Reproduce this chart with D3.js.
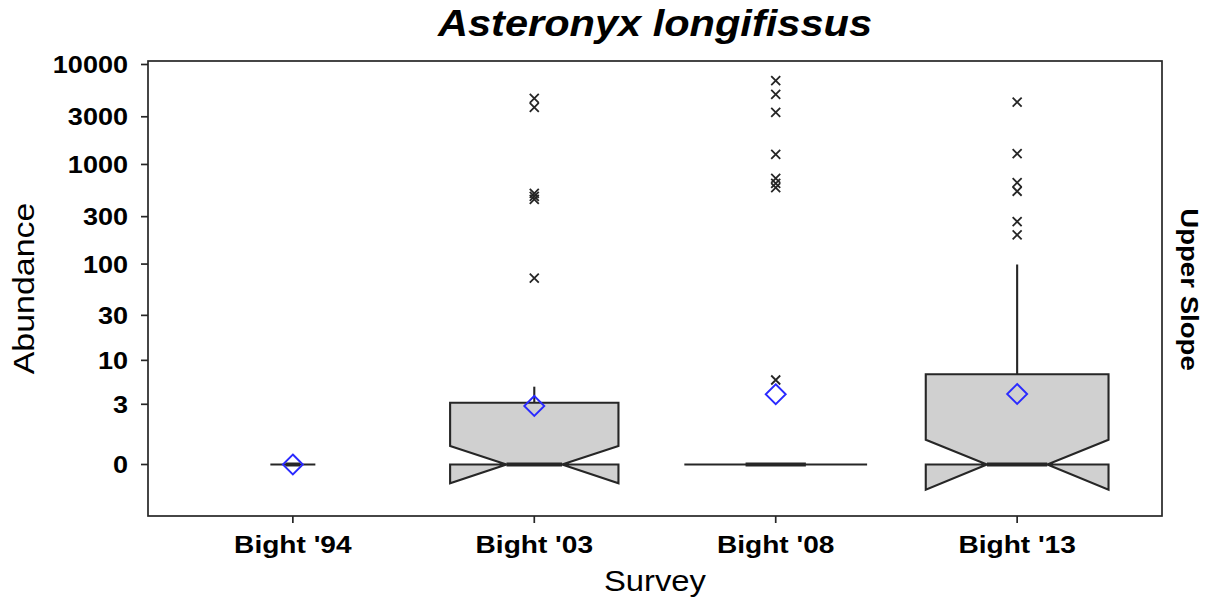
<!DOCTYPE html>
<html>
<head>
<meta charset="utf-8">
<script src="https://cdn.jsdelivr.net/npm/d3@7"></script>
<style>
  html, body { margin: 0; padding: 0; background: #ffffff; }
  svg { display: block; }
  text { font-family: "Liberation Sans", Arial, Helvetica, sans-serif; fill: #000; }
</style>
</head>
<body>
<svg id="chart" width="1207" height="603"></svg>
<script>
// ---------------- DATA ----------------
const chartTitle = "Asteronyx longifissus";
const xTitle = "Survey";
const yTitle = "Abundance";
const panelLabel = "Upper Slope";
const categories = ["Bight '94", "Bight '03", "Bight '08", "Bight '13"];
const sampleSize = [2, 28, 33, 33];
const q1 = [0, 0, 0, 0];
const medians = [0, 0, 0, 0];
const q3 = [0, 3.15, 0, 7];
const whiskerLow = [0, 0, 0, 0];
const whiskerHigh = [0, 5, 0, 99];
const notchLow = [0, -0.35, 0, -0.44];
const notchHigh = [0, 0.53, 0, 0.77];
const means = [0, 2.85, 4.04, 4.07];
const outliers = [
  [],
  [4590, 3730, 514, 480, 448, 72],
  [6880, 5030, 3325, 1263, 727, 648, 585, 6],
  [4200, 1281, 659, 539, 268, 197]
];
const yTickValues = [0, 3, 10, 30, 100, 300, 1000, 3000, 10000];
const yTickLabels = ["0", "3", "10", "30", "100", "300", "1000", "3000", "10000"];

// ---------------- LAYOUT ----------------
const panel = { left: 148, right: 1162, top: 61, bottom: 516 };
const svg = d3.select("#chart");
const ink = "#262626";

// log10(x+1) transform
const tf = v => Math.log10(1 + v);
const yLin = d3.scaleLinear().domain([-0.515, 4.035]).range([panel.bottom, panel.top]);
const y = v => yLin(tf(v));

const x = d3.scalePoint().domain(categories).range([panel.left, panel.right]).padding(0.6);
const step = x.step();
const maxN = d3.max(sampleSize);
const boxFrac = 0.757;
const notchWidth = 0.33;

function stretch(sel, factor) {
  sel.each(function () {
    const len = this.getComputedTextLength();
    d3.select(this).attr("textLength", len * factor).attr("lengthAdjust", "spacingAndGlyphs");
  });
}

// panel background
svg.append("rect")
  .attr("x", panel.left).attr("y", panel.top)
  .attr("width", panel.right - panel.left).attr("height", panel.bottom - panel.top)
  .attr("fill", "#ffffff");

const g = svg.append("g");

// boxes
categories.forEach((cat, i) => {
  const cx = x(cat);
  const hw = boxFrac * step * Math.sqrt(sampleSize[i] / maxN) / 2;
  const xmin = cx - hw, xmax = cx + hw;
  const indent = (1 - notchWidth) * hw;
  const yq1 = y(q1[i]), yq3 = y(q3[i]), ymed = y(medians[i]);
  const ynl = y(notchLow[i]), ynh = y(notchHigh[i]);

  // whiskers
  g.append("line")
    .attr("x1", cx).attr("x2", cx)
    .attr("y1", yq3).attr("y2", y(whiskerHigh[i]))
    .attr("stroke", ink).attr("stroke-width", 2.1);
  g.append("line")
    .attr("x1", cx).attr("x2", cx)
    .attr("y1", yq1).attr("y2", y(whiskerLow[i]))
    .attr("stroke", ink).attr("stroke-width", 2.1);

  // notched box polygon (ggplot style)
  const pts = [
    [xmin, yq3], [xmin, ynh], [xmin + indent, ymed], [xmin, ynl], [xmin, yq1],
    [xmax, yq1], [xmax, ynl], [xmax - indent, ymed], [xmax, ynh], [xmax, yq3]
  ];
  g.append("path")
    .attr("d", d3.line()(pts) + "Z")
    .attr("fill", "#d0d0d0")
    .attr("stroke", ink)
    .attr("stroke-width", 2.1)
    .attr("stroke-linejoin", "miter");

  // median
  g.append("line")
    .attr("x1", xmin + indent).attr("x2", xmax - indent)
    .attr("y1", ymed).attr("y2", ymed)
    .attr("stroke", ink).attr("stroke-width", 4);

  // outliers (x shape)
  const s = 4.5;
  outliers[i].forEach(v => {
    const oy = y(v);
    g.append("path")
      .attr("d", `M${cx - s},${oy - s}L${cx + s},${oy + s}M${cx - s},${oy + s}L${cx + s},${oy - s}`)
      .attr("stroke", ink).attr("stroke-width", 1.8).attr("fill", "none");
  });

  // mean diamond
  const my = y(means[i]);
  const d = 10;
  g.append("path")
    .attr("d", `M${cx},${my - d}L${cx + d},${my}L${cx},${my + d}L${cx - d},${my}Z`)
    .attr("fill", "none").attr("stroke", "#2a2aff").attr("stroke-width", 1.9);
});

// panel border
svg.append("rect")
  .attr("x", panel.left).attr("y", panel.top)
  .attr("width", panel.right - panel.left).attr("height", panel.bottom - panel.top)
  .attr("fill", "none").attr("stroke", ink).attr("stroke-width", 1.7);

// y axis
const yAxis = svg.append("g");
yTickValues.forEach((v, i) => {
  const ty = y(v);
  yAxis.append("line")
    .attr("x1", panel.left - 7).attr("x2", panel.left)
    .attr("y1", ty).attr("y2", ty)
    .attr("stroke", ink).attr("stroke-width", 1.7);
  yAxis.append("text")
    .attr("class", "ytick")
    .attr("x", panel.left - 20).attr("y", ty)
    .attr("dy", "0.36em")
    .attr("text-anchor", "end")
    .attr("font-size", 23.5).attr("font-weight", "bold")
    .text(yTickLabels[i]);
});
stretch(yAxis.selectAll("text.ytick"), 1.15);

// x axis
const xAxis = svg.append("g");
categories.forEach(cat => {
  const tx = x(cat);
  xAxis.append("line")
    .attr("x1", tx).attr("x2", tx)
    .attr("y1", panel.bottom).attr("y2", panel.bottom + 7)
    .attr("stroke", ink).attr("stroke-width", 1.7);
  xAxis.append("text")
    .attr("class", "xtick")
    .attr("x", tx).attr("y", 553)
    .attr("text-anchor", "middle")
    .attr("font-size", 24).attr("font-weight", "bold")
    .text(cat);
});
stretch(xAxis.selectAll("text.xtick"), 1.17);

// title
const t = svg.append("text")
  .attr("x", (panel.left + panel.right) / 2).attr("y", 36)
  .attr("text-anchor", "middle")
  .attr("font-size", 36).attr("font-weight", "bold").attr("font-style", "italic")
  .text(chartTitle);
stretch(t, 1.154);

// axis titles
const xt = svg.append("text")
  .attr("x", (panel.left + panel.right) / 2).attr("y", 591)
  .attr("text-anchor", "middle")
  .attr("font-size", 29)
  .text(xTitle);
stretch(xt, 1.13);

const yt = svg.append("text")
  .attr("transform", `translate(34, ${(panel.top + panel.bottom) / 2}) rotate(-90)`)
  .attr("text-anchor", "middle")
  .attr("font-size", 29)
  .text(yTitle);
stretch(yt, 1.17);

// strip label
const st = svg.append("text")
  .attr("transform", `translate(1181, ${(panel.top + panel.bottom) / 2 + 1}) rotate(90)`)
  .attr("text-anchor", "middle")
  .attr("font-size", 23).attr("font-weight", "bold")
  .text(panelLabel);
stretch(st, 1.2);
</script>
</body>
</html>
